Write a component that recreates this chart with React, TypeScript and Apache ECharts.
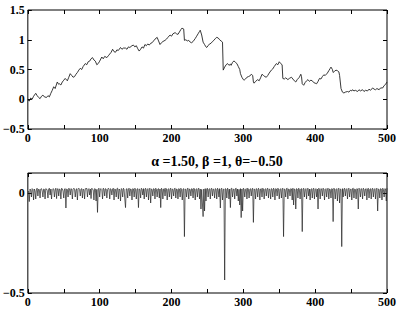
import React, { useEffect, useRef } from "react";
import * as echarts from "echarts";

const xTicks = [0, 100, 200, 300, 400, 500];
const topYTicks = [-0.5, 0, 0.5, 1, 1.5];
const bottomYTicks = [-0.5, 0];
const titleText = "α =1.50, β =1, θ=−0.50";

// Top panel: the process path, [t, X(t)]
const pathPoints: [number, number][] = [
  [0,-0.01],[2,-0.03],[4,0.02],[6,0.0],[8,0.05],[11,0.10],[13,0.06],[15,0.03],[17,0.01],[19,0.05],
  [21,0.07],[23,0.04],[26,0.03],[28,0.06],[30,0.04],[32,0.10],[34,0.15],[36,0.21],[38,0.18],[41,0.29],
  [43,0.25],[44,0.26],[46,0.24],[48,0.29],[50,0.32],[52,0.35],[55,0.31],[57,0.37],[59,0.43],[61,0.40],
  [63,0.37],[65,0.38],[67,0.42],[69,0.45],[71,0.49],[73,0.52],[75,0.50],[77,0.55],[80,0.60],[82,0.58],
  [84,0.63],[86,0.64],[88,0.68],[90,0.70],[92,0.66],[94,0.64],[96,0.58],[98,0.60],[100,0.64],[103,0.71],
  [105,0.68],[107,0.72],[110,0.70],[112,0.73],[114,0.76],[116,0.79],[118,0.84],[120,0.80],[122,0.79],[124,0.83],
  [126,0.82],[129,0.87],[131,0.84],[133,0.86],[136,0.86],[138,0.84],[140,0.88],[142,0.87],[145,0.90],[147,0.91],
  [149,0.88],[151,0.90],[153,0.85],[155,0.81],[157,0.84],[159,0.88],[161,0.86],[163,0.92],[165,0.90],[167,0.93],
  [169,0.91],[171,0.94],[173,0.95],[175,0.98],[177,1.01],[180,1.04],[182,0.98],[184,0.92],[186,0.95],[188,0.97],
  [191,0.99],[193,1.01],[195,1.04],[198,1.08],[200,1.06],[202,1.10],[205,1.12],[207,1.10],[209,1.09],[211,1.13],
  [213,1.17],[214,1.19],[216,1.19],[217,1.18],[218,0.99],[220,1.00],[222,0.98],[224,0.99],[226,0.96],[228,0.95],
  [230,0.97],[233,1.02],[235,1.06],[237,1.10],[239,1.14],[240,1.16],[242,1.08],[244,0.96],[246,0.92],[248,0.88],
  [249,0.87],[251,0.90],[253,0.93],[255,0.94],[257,0.97],[259,0.99],[261,1.02],[263,1.04],[265,1.03],[267,1.00],
  [269,0.98],[271,0.96],[272,0.49],[274,0.54],[276,0.58],[278,0.60],[280,0.57],[282,0.59],[283,0.57],[285,0.62],
  [287,0.645],[289,0.62],[291,0.60],[293,0.55],[295,0.50],[296,0.43],[298,0.37],[300,0.33],[301,0.32],[303,0.34],
  [305,0.37],[307,0.38],[309,0.39],[311,0.42],[313,0.40],[314,0.29],[315,0.27],[317,0.30],[320,0.33],[322,0.31],
  [324,0.36],[326,0.42],[328,0.40],[330,0.38],[332,0.37],[334,0.40],[336,0.44],[339,0.49],[341,0.51],[343,0.55],
  [346,0.60],[348,0.58],[350,0.63],[352,0.60],[354,0.58],[355,0.35],[357,0.34],[359,0.36],[362,0.33],[364,0.35],
  [367,0.37],[369,0.34],[371,0.31],[373,0.29],[375,0.33],[378,0.37],[380,0.42],[381,0.38],[382,0.26],[384,0.235],
  [386,0.28],[388,0.31],[390,0.33],[392,0.30],[394,0.32],[396,0.31],[398,0.28],[400,0.27],[402,0.26],[404,0.30],
  [406,0.35],[408,0.34],[410,0.38],[412,0.41],[414,0.40],[417,0.44],[419,0.48],[421,0.52],[422,0.54],[424,0.50],
  [425,0.45],[427,0.47],[429,0.49],[431,0.48],[433,0.46],[434,0.40],[436,0.18],[438,0.12],[440,0.105],[442,0.12],
  [445,0.13],[447,0.12],[449,0.15],[451,0.14],[452,0.16],[454,0.14],[456,0.15],[459,0.13],[461,0.16],[463,0.14],
  [466,0.16],[468,0.13],[470,0.15],[473,0.14],[475,0.17],[477,0.15],[480,0.19],[482,0.17],[484,0.16],[486,0.18],
  [489,0.16],[491,0.19],[494,0.19],[496,0.23],[498,0.25],[500,0.29]
];

// Bottom panel: increments, one per step (t = 1..500)
const increments: number[] = [
  0.01,-0.043,0.02,0.015,-0.02,0.022,0.018,-0.035,0.02,0.01,-0.03,0.02,0.024,-0.015,0.02,0.016,-0.025,0.02,0.022,0.01,
  -0.02,0.02,0.018,-0.03,0.022,0.02,0.012,-0.025,0.02,0.024,-0.01,0.02,-0.03,0.018,0.022,0.02,-0.02,0.015,0.024,-0.028,
  0.02,0.022,-0.015,0.02,0.018,-0.03,0.024,0.02,0.01,-0.025,0.02,0.022,-0.075,0.02,0.018,-0.02,0.024,0.02,-0.01,0.022,
  0.02,-0.03,0.018,0.024,0.02,-0.02,0.015,0.022,-0.035,0.02,0.024,0.018,-0.015,0.02,0.022,-0.025,0.02,0.016,-0.03,0.022,
  0.02,0.024,-0.02,0.018,0.022,-0.01,0.02,-0.028,0.024,0.02,0.015,-0.035,0.022,0.02,-0.04,0.018,-0.097,0.02,0.024,-0.02,
  0.02,0.022,0.018,-0.03,0.024,0.02,-0.015,0.022,0.02,-0.025,0.016,0.024,0.02,-0.03,0.022,0.018,-0.01,0.02,0.024,-0.035,
  0.02,0.018,-0.02,0.022,0.024,-0.03,0.02,0.015,-0.04,0.022,0.02,-0.02,0.024,0.018,-0.03,-0.073,0.02,0.022,-0.025,0.02,
  0.024,-0.015,0.02,0.018,-0.035,0.022,0.02,-0.02,0.024,0.016,-0.03,0.02,0.022,-0.073,0.02,0.018,-0.025,0.024,0.02,-0.01,
  0.022,-0.03,0.02,0.024,-0.02,0.018,0.022,-0.035,0.02,0.024,-0.05,0.02,0.018,-0.015,0.022,0.02,-0.03,0.024,0.018,-0.02,
  0.02,0.022,-0.025,0.02,-0.073,0.024,0.018,-0.03,0.02,0.022,-0.015,0.024,0.02,-0.035,0.018,0.022,-0.02,0.02,0.024,-0.03,
  0.02,0.018,-0.015,0.022,0.024,-0.025,0.02,0.018,-0.03,0.022,0.02,-0.02,0.024,0.016,-0.035,0.02,0.022,-0.218,0.02,0.018,
  -0.02,0.022,0.024,-0.03,0.02,0.018,-0.015,0.022,0.02,-0.025,0.024,0.02,-0.035,0.018,0.022,-0.02,0.02,0.024,-0.03,0.02,
  -0.08,0.018,-0.05,-0.118,0.02,-0.09,0.022,-0.04,0.02,0.024,-0.02,0.018,0.022,-0.03,0.02,0.024,-0.015,0.02,0.018,-0.025,
  0.022,0.02,-0.03,0.024,0.018,-0.02,0.022,-0.075,0.02,0.024,-0.035,0.018,0.02,-0.435,0.022,0.02,-0.025,0.024,0.018,-0.03,
  0.02,-0.073,0.022,0.024,-0.02,0.018,0.02,-0.03,0.022,0.024,-0.015,0.02,-0.04,0.018,-0.06,0.022,-0.123,0.02,-0.09,0.024,
  0.02,-0.02,0.018,0.022,-0.03,0.024,0.02,-0.025,0.018,0.022,-0.015,0.02,0.024,-0.147,0.02,0.018,-0.03,0.022,0.02,-0.02,
  0.024,0.018,-0.035,0.02,0.022,-0.02,0.024,0.02,-0.03,0.018,0.022,-0.015,0.02,0.024,-0.025,0.02,0.018,-0.03,0.022,0.02,
  -0.02,0.024,0.018,-0.035,0.022,0.02,-0.015,0.024,0.02,-0.03,0.018,0.022,-0.025,0.02,0.024,-0.218,0.02,0.018,-0.02,0.022,
  0.024,-0.03,0.02,0.018,-0.015,0.022,0.02,-0.035,0.024,-0.06,0.02,0.018,-0.08,0.022,0.02,-0.025,0.024,0.018,-0.03,0.02,
  0.022,-0.193,0.02,0.024,-0.02,0.018,0.022,-0.03,0.02,0.024,-0.015,0.02,-0.035,0.018,0.022,-0.025,0.02,0.024,-0.03,0.018,
  0.022,-0.02,0.02,-0.08,0.024,0.018,-0.03,0.022,0.02,-0.015,0.024,0.02,-0.035,0.018,0.022,-0.02,0.02,0.024,-0.03,0.02,
  0.018,-0.025,0.022,0.02,-0.143,0.024,0.02,-0.03,0.018,0.022,-0.04,0.02,0.024,-0.05,0.02,0.018,-0.268,0.022,-0.02,0.02,
  0.024,-0.015,0.018,0.022,-0.03,0.02,0.024,-0.02,0.018,0.02,-0.035,0.022,0.024,-0.025,0.02,0.018,-0.03,0.022,0.02,-0.08,
  0.024,0.018,-0.02,0.022,0.02,-0.03,0.024,0.018,-0.015,0.02,0.022,-0.035,0.02,0.024,-0.025,0.018,0.022,-0.03,0.02,0.024,
  -0.02,0.018,0.022,-0.03,0.02,0.024,-0.09,0.02,0.018,-0.025,0.022,0.02,-0.035,0.024,0.018,-0.02,0.022,0.02,-0.04,0.024
];

const FONT = "'Liberation Serif', 'Times New Roman', serif";

function fmtY(v: number): string {
  const r = Math.round(v * 100) / 100;
  if (r < 0) return "\u2212" + String(Math.abs(r));
  return String(r);
}

export default function App() {
  const ref = useRef<HTMLDivElement>(null);
  useEffect(() => {
    document.body.style.margin = "0";
    if (!ref.current) return;
    const chart = echarts.init(ref.current, undefined, { renderer: "svg" });
    const labelStyle = {
      color: "#000",
      fontFamily: FONT,
      fontWeight: "bold" as const,
      fontSize: 12,
    };
    const xLabelFmt = (v: number) => (xTicks.includes(v) ? String(v) : "");
    const topYLabelFmt = (v: number) =>
      topYTicks.some((t) => Math.abs(t - v) < 1e-9) ? fmtY(v) : "";
    const botYLabelFmt = (v: number) =>
      bottomYTicks.some((t) => Math.abs(t - v) < 1e-9) ? fmtY(v) : "";
    const tick = { show: true, inside: true, length: 4, lineStyle: { color: "#000", width: 1 } };
    const mkX = (grid: number, pos: "top" | "bottom", labels: boolean) => ({
      type: "value" as const,
      gridIndex: grid,
      position: pos,
      min: 0,
      max: 500,
      interval: 50,
      axisLine: { show: false, onZero: false },
      axisTick: tick,
      splitLine: { show: false },
      axisLabel: labels
        ? { ...labelStyle, margin: 3, formatter: xLabelFmt, showMinLabel: true, showMaxLabel: true }
        : { show: false },
    });
    const mkY = (grid: number, pos: "left" | "right", labels: boolean, min: number, max: number, fmt: (v: number) => string) => ({
      type: "value" as const,
      gridIndex: grid,
      position: pos,
      min,
      max,
      interval: 0.5,
      axisLine: { show: false, onZero: false },
      axisTick: tick,
      splitLine: { show: false },
      axisLabel: labels ? { ...labelStyle, margin: 3, formatter: fmt } : { show: false },
    });
    chart.setOption({
      animation: false,
      backgroundColor: "#fff",
      title: {
        text: titleText,
        left: 212,
        top: 149,
        textAlign: "center",
        textStyle: { fontFamily: FONT, fontWeight: "bold", fontSize: 14, color: "#000" },
      },
      grid: [
        { left: 27, right: 11, top: 10, height: 119, show: true, borderColor: "#000", borderWidth: 1, backgroundColor: "transparent" },
        { left: 27, right: 11, top: 173, height: 120, show: true, borderColor: "#000", borderWidth: 1, backgroundColor: "transparent" },
      ],
      xAxis: [mkX(0, "bottom", true), mkX(0, "top", false), mkX(1, "bottom", true), mkX(1, "top", false)],
      yAxis: [
        mkY(0, "left", true, -0.5, 1.5, topYLabelFmt),
        mkY(0, "right", false, -0.5, 1.5, topYLabelFmt),
        mkY(1, "left", true, -0.5, 0.1, botYLabelFmt),
        mkY(1, "right", false, -0.5, 0.1, botYLabelFmt),
      ],
      series: [
        {
          type: "line",
          xAxisIndex: 0,
          yAxisIndex: 0,
          data: pathPoints,
          showSymbol: false,
          symbol: "none",
          lineStyle: { color: "#222", width: 0.9 },
          silent: true,
        },
        {
          type: "line",
          xAxisIndex: 2,
          yAxisIndex: 2,
          data: increments.map((v, i) => [i + 1, v]),
          showSymbol: false,
          symbol: "none",
          lineStyle: { color: "#222", width: 0.7 },
          silent: true,
        },
      ],
    });
    return () => chart.dispose();
  }, []);
  return <div ref={ref} style={{ width: 399, height: 310 }} />;
}
